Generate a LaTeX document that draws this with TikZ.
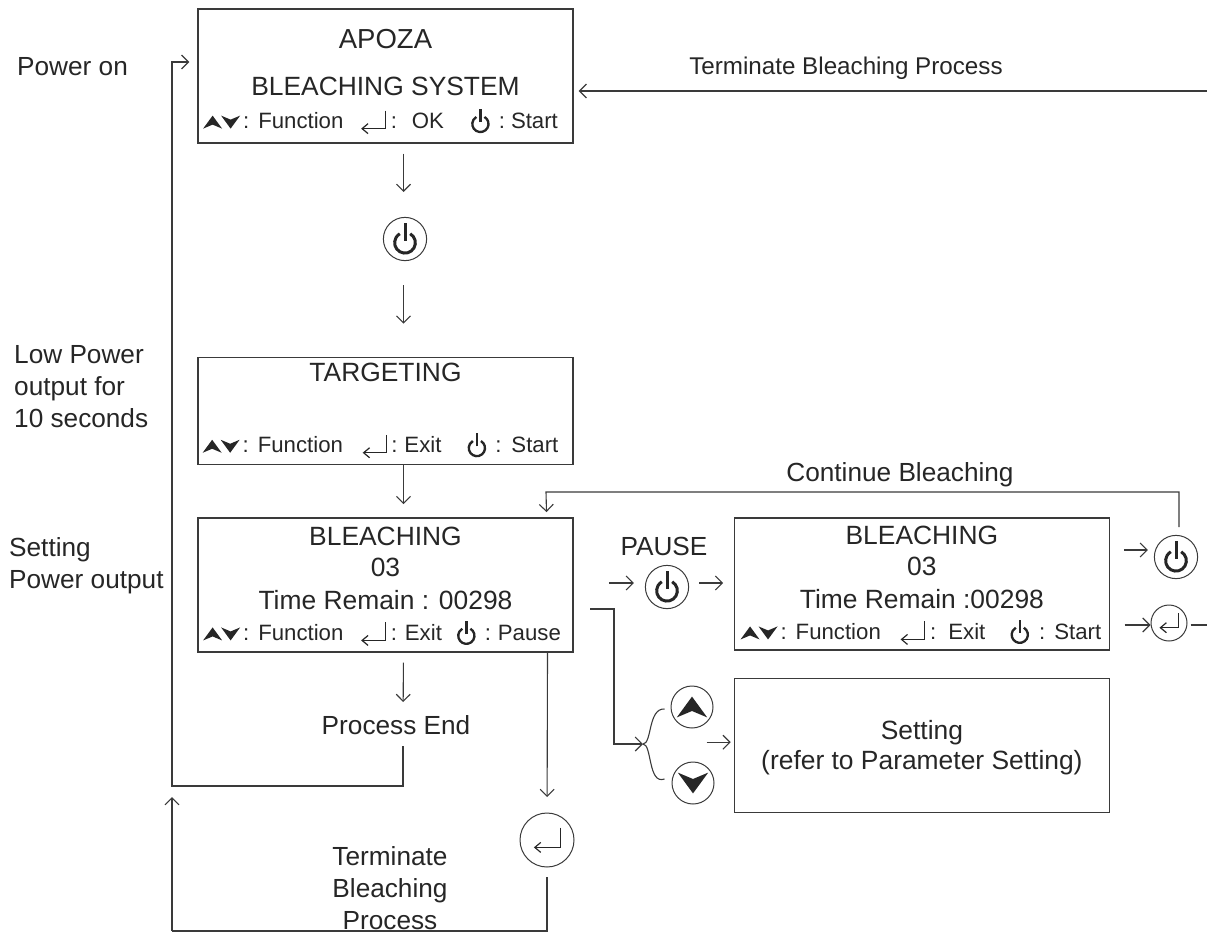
\documentclass[tikz,border=0pt]{standalone}
\usepackage{fontspec}
\setmainfont{Liberation Sans}
\usetikzlibrary{arrows.meta,positioning}
\definecolor{inkgray}{HTML}{262626}
\definecolor{wiregray}{HTML}{3A3A3A}
\newcommand{\rowsize}{\fontsize{22.2}{26}\selectfont}
\newcommand{\mainsize}{\fontsize{26.4}{30}\selectfont}
\newcommand{\notesize}{\fontsize{26.2}{32}\selectfont}
\newcommand{\iconpower}[1][1]{\tikz[baseline=0pt,x=#1pt,y=#1pt,line width=#1*2.6pt,inkgray]{
		\draw (4.5,13) arc (60:-240:9); \draw (0,7) -- (0,22);}}
\newcommand{\iconenter}[1][1]{\tikz[baseline=0pt,x=#1pt,y=#1pt,line width=1.2pt,inkgray]{
		\draw[-{Straight Barb[length=6pt,width=10pt]}] (24,18) -- (24,0) -- (0,0);}}
\newcommand{\iconup}[1][1]{\tikz[baseline=0pt,x=#1pt,y=#1pt]{
		\fill[inkgray] (0,0) -- (9.5,13) -- (19,0) -- (9.5,4) -- cycle;}}
\newcommand{\icondown}[1][1]{\tikz[baseline=0pt,x=#1pt,y=#1pt]{
		\fill[inkgray] (0,13) -- (9.5,0) -- (19,13) -- (9.5,9) -- cycle;}}
\newcommand{\iconkeys}{\iconup\hspace{-1pt}\icondown\hspace{3pt}:\hspace{9pt}}
\begin{document}
\begin{tikzpicture}[x=1pt,y=-1pt,
	lcd/.style={draw=wiregray,line width=1.4pt,minimum width=375pt,inner sep=0pt,align=center,text=inkgray,font=\mainsize},
	note/.style={align=left,text=inkgray,font=\notesize,inner sep=0pt},
	btn/.style={draw=wiregray,line width=1pt,circle,inner sep=0pt,text=inkgray},
	wire/.style={draw=wiregray,line width=1.1pt},
	flow/.style={wire,-{Straight Barb[length=7pt,width=14pt]}}
	]
	\useasboundingbox (0,0) rectangle (1207,934);
	% main column
	\node[lcd,minimum height=134pt] (boot) at (385.5,76) {
		\rule{0pt}{31pt}{\fontsize{27.5}{30}\selectfont APOZA}\hspace{20pt}\\[17pt]BLEACHING SYSTEM\\[3pt]
		{\rowsize\iconkeys Function\hspace{17pt}\iconenter\hspace{5pt}:\hspace{15pt}OK\hspace{26pt}\iconpower[0.9]\hspace{8pt}:\hspace{6pt}Start\hspace{10pt}}
	};
	\node[lcd,minimum height=107pt,below=213pt of boot] (aim) {
		TARGETING\\[41pt]
		{\rowsize\iconkeys Function\hspace{19pt}\iconenter\hspace{4pt}:\hspace{7pt}Exit\hspace{25pt}\iconpower[0.9]\hspace{8pt}:\hspace{10pt}Start\hspace{10pt}}
	};
	\node[lcd,minimum height=134pt,below=52pt of aim] (run) {
		\rule{0pt}{22pt}BLEACHING\\[1pt]03\\[3pt]Time Remain : 00298\\[1pt]
		{\rowsize\iconkeys Function\hspace{17pt}\iconenter\hspace{5pt}:\hspace{8pt}Exit\hspace{14pt}\iconpower[0.9]\hspace{8pt}:\hspace{7pt}Pause\hspace{7pt}}
	};
	\node[lcd,minimum height=132pt,right=160pt of run,yshift=1pt] (hold) {
		\rule{0pt}{22pt}BLEACHING\\[1pt]03\\[3pt]Time Remain :00298\\[1pt]
		{\rowsize\iconkeys Function\hspace{19pt}\iconenter\hspace{5pt}:\hspace{12pt}Exit\hspace{24pt}\iconpower[0.9]\hspace{9pt}:\hspace{9pt}Start\hspace{2pt}}
	};
	\node[lcd,minimum height=134pt,below=27pt of hold] (setup) {
		\rule{0pt}{25pt}Setting\\[0pt](refer to Parameter Setting)
	};
	% buttons
	\node[btn,minimum size=42pt] (startkey) at (405,239) {\iconpower[1.15]};
	\node[btn,minimum size=42pt] (pausekey) at (667,587) {\iconpower[1.15]};
	\node[btn,minimum size=42pt] (resumekey) at (1176,557) {\iconpower[1.15]};
	\node[btn,minimum size=36pt] (exitkey) at (1169,623) {\iconenter[0.8]};
	\node[btn,minimum size=54pt] (stopkey) at (547,840) {\iconenter[1.1]};
	\node[btn,minimum size=42pt] (upkey) at (692,707) {\iconup[1.6]};
	\node[btn,minimum size=42pt] (downkey) at (693,783) {\icondown[1.6]};
	% texts
	\node[note,anchor=west] (poweron) at (17,67) {Power on};
	\node[note,anchor=west] (lowpower) at (14,387) {Low Power\\output for\\10 seconds};
	\node[note,anchor=west] (setpower) at (9,566) {Setting\\Power output};
	\node[note,font=\fontsize{24.2}{30}\selectfont] (termtop) at (846,68) {Terminate Bleaching Process};
	\node[note] (contin) at (900,475) {Continue Bleaching};
	\node[note] (pauselbl) at (664,546) {PAUSE};
	\node[note] (endlbl) at (396,725) {Process End};
	\node[note,align=center] (termlow) at (390,888) {Terminate\\Bleaching\\Process};
	% free ends
	\coordinate (loopL) at (172,786);
	\coordinate (lowL) at (172,931);
	\coordinate (edgeT) at (1207,91);
	\coordinate (edgeE) at (1207,625);
	\coordinate (contL) at (546,492);
	\coordinate (forkA) at (590,609);
	\coordinate (forkB) at (614,744);
	\coordinate (forkC) at (643,744);
	% connectors
	\draw[flow,shorten <=10pt,shorten >=47pt] ([xshift=18pt]boot.south) -- ([xshift=18pt]boot.south |- startkey.center);
	\draw[flow,shorten <=46pt,shorten >=33pt] ([xshift=18pt]boot.south |- startkey.center) -- ([xshift=18pt]aim.north);
	\draw[flow,shorten >=13pt] ([xshift=18pt]aim.south) -- ([xshift=18pt]run.north);
	\draw[flow,shorten <=10pt,shorten >=23pt] ([xshift=18pt]run.south) -- ([xshift=7pt]endlbl.center);
	\draw[flow] ([xshift=7pt,yshift=-21pt]endlbl.center) |- (loopL) |- ([yshift=14pt,xshift=-8pt]boot.west);
	\draw[flow,shorten >=43pt] ([xshift=162pt]run.south) -- (stopkey.center);
	\draw[wire,shorten <=37pt] (stopkey.center) |- (lowL);
	\draw[flow] (lowL) -- ([yshift=-11pt]loopL);
	\draw[flow,shorten >=5pt] (edgeT) -- (boot.east |- edgeT);
	\draw[flow] ([xshift=3pt,yshift=30pt]resumekey.center) |- (contL) -- ([yshift=5pt,xshift=161pt]run.north);
	\draw[flow] ([xshift=-36pt,yshift=4pt]pausekey.west) -- ++(25pt,0pt);
	\draw[flow] ([xshift=10pt,yshift=4pt]pausekey.east) -- ++(24pt,0pt);
	\draw[flow] ([xshift=-30pt,yshift=7pt]resumekey.west) -- ++(24pt,0pt);
	\draw[flow] ([xshift=-26pt]exitkey.west |- edgeE) -- (exitkey.west |- edgeE);
	\draw[wire,shorten <=3pt] (exitkey.east |- edgeE) -- (edgeE);
	\draw[flow] (forkA) -| (forkB) -- (forkC);
	\draw[wire] (forkC) .. controls (652,744) and (648,708) .. ([xshift=-6pt,yshift=-2pt]upkey.west);
	\draw[wire] (forkC) .. controls (652,744) and (648,785) .. ([xshift=-7pt,yshift=4pt]downkey.west);
	\draw[flow] ([xshift=-27pt,yshift=3pt]setup.west) -- ([xshift=-3pt,yshift=3pt]setup.west);
\end{tikzpicture}
\end{document}
